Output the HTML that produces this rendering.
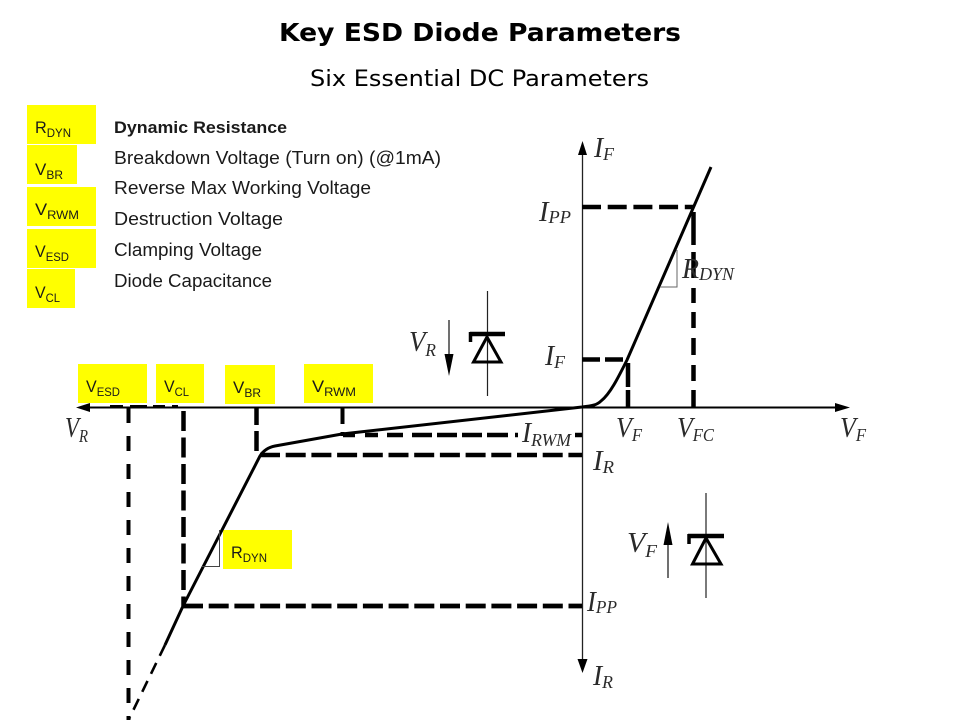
<!DOCTYPE html>
<html>
<head>
<meta charset="utf-8">
<style>
html,body{margin:0;padding:0;background:#fff;}
svg{display:block;}
.s{font-family:"Liberation Sans",sans-serif;fill:#1a1a1a;}
.m{font-family:"Liberation Serif",serif;font-style:italic;fill:#2a2a2a;font-size:28px;}
.m tspan{font-size:18px;}
</style>
</head>
<body>
<svg width="960" height="720" viewBox="0 0 960 720" xmlns="http://www.w3.org/2000/svg">
<rect width="960" height="720" fill="#fff"/>
<text x="279" y="41" font-family="'DejaVu Sans',sans-serif" font-weight="bold" font-size="25" textLength="402" lengthAdjust="spacingAndGlyphs" fill="#000">Key ESD Diode Parameters</text>
<text x="310" y="86" font-family="'DejaVu Sans',sans-serif" font-size="22" textLength="339" lengthAdjust="spacingAndGlyphs" fill="#000">Six Essential DC Parameters</text>

<g fill="#ffff00">
<rect x="27" y="105" width="69" height="39"/>
<rect x="27" y="145" width="50" height="39"/>
<rect x="27" y="187" width="69" height="39"/>
<rect x="27" y="229" width="69" height="39"/>
<rect x="27" y="269" width="48" height="39"/>
<rect x="78" y="364" width="69" height="39"/>
<rect x="156" y="364" width="48" height="39"/>
<rect x="225" y="365" width="50" height="39"/>
<rect x="304" y="364" width="69" height="39"/>
<rect x="223" y="530" width="69" height="39"/>
</g>

<g class="s" font-size="17" lengthAdjust="spacingAndGlyphs">
<text x="35" y="133" textLength="36" lengthAdjust="spacingAndGlyphs">R<tspan font-size="12" dy="4">DYN</tspan></text>
<text x="35" y="175" textLength="28" lengthAdjust="spacingAndGlyphs">V<tspan font-size="12" dy="4">BR</tspan></text>
<text x="35" y="215" textLength="44" lengthAdjust="spacingAndGlyphs">V<tspan font-size="12" dy="4">RWM</tspan></text>
<text x="35" y="257" textLength="34" lengthAdjust="spacingAndGlyphs">V<tspan font-size="12" dy="4">ESD</tspan></text>
<text x="35" y="298" textLength="25" lengthAdjust="spacingAndGlyphs">V<tspan font-size="12" dy="4">CL</tspan></text>
<text x="86" y="392" textLength="34" lengthAdjust="spacingAndGlyphs">V<tspan font-size="12" dy="4">ESD</tspan></text>
<text x="164" y="392" textLength="25" lengthAdjust="spacingAndGlyphs">V<tspan font-size="12" dy="4">CL</tspan></text>
<text x="233" y="393" textLength="28" lengthAdjust="spacingAndGlyphs">V<tspan font-size="12" dy="4">BR</tspan></text>
<text x="312" y="392" textLength="44" lengthAdjust="spacingAndGlyphs">V<tspan font-size="12" dy="4">RWM</tspan></text>
<text x="231" y="558" textLength="36" lengthAdjust="spacingAndGlyphs">R<tspan font-size="12" dy="4">DYN</tspan></text>
</g>

<g class="s" font-size="18">
<text x="114" y="133" font-weight="bold" font-size="17" textLength="173" lengthAdjust="spacingAndGlyphs">Dynamic Resistance</text>
<text x="114" y="164" textLength="327" lengthAdjust="spacingAndGlyphs">Breakdown Voltage (Turn on) (@1mA)</text>
<text x="114" y="194" textLength="257" lengthAdjust="spacingAndGlyphs">Reverse Max Working Voltage</text>
<text x="114" y="225" textLength="169" lengthAdjust="spacingAndGlyphs">Destruction Voltage</text>
<text x="114" y="256" textLength="148" lengthAdjust="spacingAndGlyphs">Clamping Voltage</text>
<text x="114" y="287" textLength="158" lengthAdjust="spacingAndGlyphs">Diode Capacitance</text>
</g>

<!-- axes -->
<line x1="88" y1="407.5" x2="838" y2="407.5" stroke="#000" stroke-width="2"/>
<polygon points="76,407.5 90,403 90,412" fill="#000"/>
<polygon points="850,407.5 835,403 835,412" fill="#000"/>
<line x1="582.5" y1="150" x2="582.5" y2="662" stroke="#222" stroke-width="1.3"/>
<polygon points="582.5,141 578,155 587,155" fill="#000"/>
<polygon points="582.5,673 577.5,659 587.5,659" fill="#000"/>

<!-- curve -->
<path d="M582,407 C592,406 597,405 601,401 C610,394 618,378 627,360 L711,167" fill="none" stroke="#000" stroke-width="3"/>
<path d="M582,407 L342,434 L275,446 Q265,448 260,456 L183,606 L165,645" fill="none" stroke="#000" stroke-width="3"/>
<path d="M165,645 L129,719" fill="none" stroke="#000" stroke-width="2.6" stroke-dasharray="12 8"/>

<!-- dashes -->
<g fill="none" stroke="#000">
<path d="M582,207 H693" stroke-width="4.5" stroke-dasharray="19 6.7"/>
<path d="M693.5,212 V245 M693.5,252 V278 M693.5,288 V303 M693.5,312 V328 M693.5,338 V355 M693.5,365 V381 M693.5,390 V407" stroke-width="4.5"/>
<path d="M582,359.5 H627" stroke-width="4.5" stroke-dasharray="18 5"/>
<path d="M628,363 V387 M628,390 V407" stroke-width="4.5"/>
<path d="M343,435 H355 M365,435 H378 M387,435 H403 M412,435 H432 M437,435 H457 M462,435 H482 M487,435 H508 M515,435 H518" stroke-width="4.5"/>
<path d="M575,435 H582" stroke-width="4.5"/>
<path d="M260,455 H582" stroke-width="4.5" stroke-dasharray="20 5.7"/>
<path d="M256.5,408 V425 M256.5,431 V451" stroke-width="4.5"/>
<path d="M342.5,408 V424 M342.5,432 V436" stroke-width="4"/>
<path d="M183.5,411 V606" stroke-width="4.5" stroke-dasharray="20 6.5"/>
<path d="M128.5,408 V720" stroke-width="4" stroke-dasharray="15 13"/>
<path d="M110,406 H123 M130,406 H147 M153,406 H165 M172,406 H178" stroke-width="2"/>
<path d="M183,606 H582" stroke-width="4.7" stroke-dasharray="20 5.7"/>
</g>

<!-- slope triangles -->
<path d="M677,250 V287 H660" fill="none" stroke="#666" stroke-width="1"/>
<path d="M219.5,530 V566.5 H202" fill="none" stroke="#444" stroke-width="1"/>

<!-- diode 1 -->
<line x1="487.5" y1="291" x2="487.5" y2="396" stroke="#222" stroke-width="1.2"/>
<path d="M470,334 H505" stroke="#000" stroke-width="4.5" fill="none"/>
<path d="M470.5,332 V342" stroke="#000" stroke-width="3.5" fill="none"/>
<polygon points="487,337 473.5,362 501,362" fill="none" stroke="#000" stroke-width="3"/>
<line x1="449" y1="320" x2="449" y2="358" stroke="#222" stroke-width="1.3"/>
<polygon points="449,376 444.5,354 453.5,354" fill="#000"/>

<!-- diode 2 -->
<line x1="706" y1="493" x2="706" y2="598" stroke="#222" stroke-width="1.2"/>
<path d="M688,536 H724" stroke="#000" stroke-width="4.5" fill="none"/>
<path d="M689,534 V544" stroke="#000" stroke-width="3.5" fill="none"/>
<polygon points="706,538 692.5,564 721,564" fill="none" stroke="#000" stroke-width="3"/>
<line x1="668" y1="540" x2="668" y2="578" stroke="#222" stroke-width="1.3"/>
<polygon points="668,522 663.5,545 672.5,545" fill="#000"/>

<!-- math labels -->
<g class="m">
<text x="594" y="157" textLength="20" lengthAdjust="spacingAndGlyphs">I<tspan dy="3">F</tspan></text>
<text x="539" y="221" textLength="32" lengthAdjust="spacingAndGlyphs">I<tspan dy="2">PP</tspan></text>
<text x="682" y="278" textLength="52" lengthAdjust="spacingAndGlyphs">R<tspan dy="2">DYN</tspan></text>
<text x="545" y="365" textLength="20" lengthAdjust="spacingAndGlyphs">I<tspan dy="3">F</tspan></text>
<text x="409" y="351" textLength="27" lengthAdjust="spacingAndGlyphs">V<tspan dy="5">R</tspan></text>
<text x="65" y="437" textLength="23" lengthAdjust="spacingAndGlyphs">V<tspan dy="5">R</tspan></text>
<text x="522" y="442" textLength="49" lengthAdjust="spacingAndGlyphs">I<tspan dy="4">RWM</tspan></text>
<text x="616" y="437" textLength="26" lengthAdjust="spacingAndGlyphs">V<tspan dy="4">F</tspan></text>
<text x="677" y="437" textLength="37" lengthAdjust="spacingAndGlyphs">V<tspan dy="4">FC</tspan></text>
<text x="840" y="437" textLength="26" lengthAdjust="spacingAndGlyphs">V<tspan dy="4">F</tspan></text>
<text x="593" y="470" textLength="21" lengthAdjust="spacingAndGlyphs">I<tspan dy="3">R</tspan></text>
<text x="627" y="552" textLength="30" lengthAdjust="spacingAndGlyphs">V<tspan dy="5">F</tspan></text>
<text x="587" y="611" textLength="30" lengthAdjust="spacingAndGlyphs">I<tspan dy="2">PP</tspan></text>
<text x="593" y="685" textLength="20" lengthAdjust="spacingAndGlyphs">I<tspan dy="3">R</tspan></text>
</g>
</svg>
</body>
</html>
